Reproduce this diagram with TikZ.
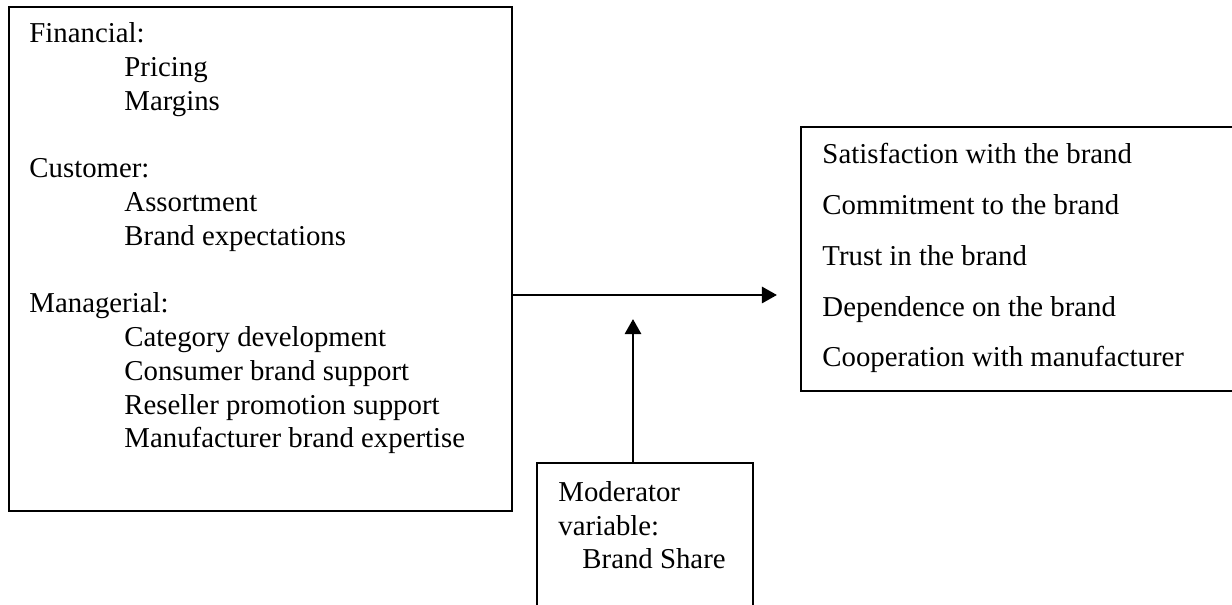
\documentclass[tikz,border=0pt]{standalone}
\usepackage{fontspec}
\setmainfont{Liberation Serif}
\usetikzlibrary{arrows.meta}

\begin{document}
\begin{tikzpicture}[
    x=0.4167pt, y=-0.4167pt,
    box/.style={rectangle, draw=black, line width=0.8pt, inner sep=0pt},
    arrow/.style={-{Triangle[length=6.3pt, width=6.7pt]}, line width=1.2pt},
    txt/.style={anchor=base west, inner sep=0pt, font=\fontsize{12}{14}\selectfont}
]

    % Page frame
    \useasboundingbox (0,0) rectangle (1232,605);
    \clip (0,0) rectangle (1232,605);

    % Drivers
    \node[box, minimum width=503*0.4167pt, minimum height=504*0.4167pt] (drivers) at (260.5,259) {};
    \foreach \k/\x/\t in {0/29/Financial:, 1/124/Pricing, 2/124/Margins,
                          4/29/Customer:, 5/124/Assortment, 6/124/Brand expectations,
                          8/29/Managerial:, 9/124/Category development, 10/124/Consumer brand support,
                          11/124/Reseller promotion support, 12/124/Manufacturer brand expertise}
        \node[txt] (driver\k) at (\x, {43+33.75*\k}) {\t};

    % Outcomes
    \node[box, minimum width=439*0.4167pt, minimum height=264*0.4167pt] (outcomes) at (1020.5,259) {};
    \foreach \t [count=\k from 0] in {Satisfaction with the brand, Commitment to the brand,
                                      Trust in the brand, Dependence on the brand,
                                      Cooperation with manufacturer}
        \node[txt] (outcome\k) at (822, {164+50.75*\k}) {\t};

    % Moderator
    \node[box, minimum width=216*0.4167pt, minimum height=157*0.4167pt] (moderator) at (645,541.5) {};
    \node[txt] (mod1) at (558,502) {Moderator};
    \node[txt] (mod2) at (558,535.5) {variable:};
    \node[txt] (mod3) at (582,569) {Brand Share};

    % Arrows
    \coordinate (maintip) at (777,295);
    \coordinate (modtip) at (633,319);
    \draw[arrow] (drivers.east |- maintip) -- (maintip);
    \draw[arrow] (moderator.north -| modtip) -- (modtip);

\end{tikzpicture}
\end{document}
